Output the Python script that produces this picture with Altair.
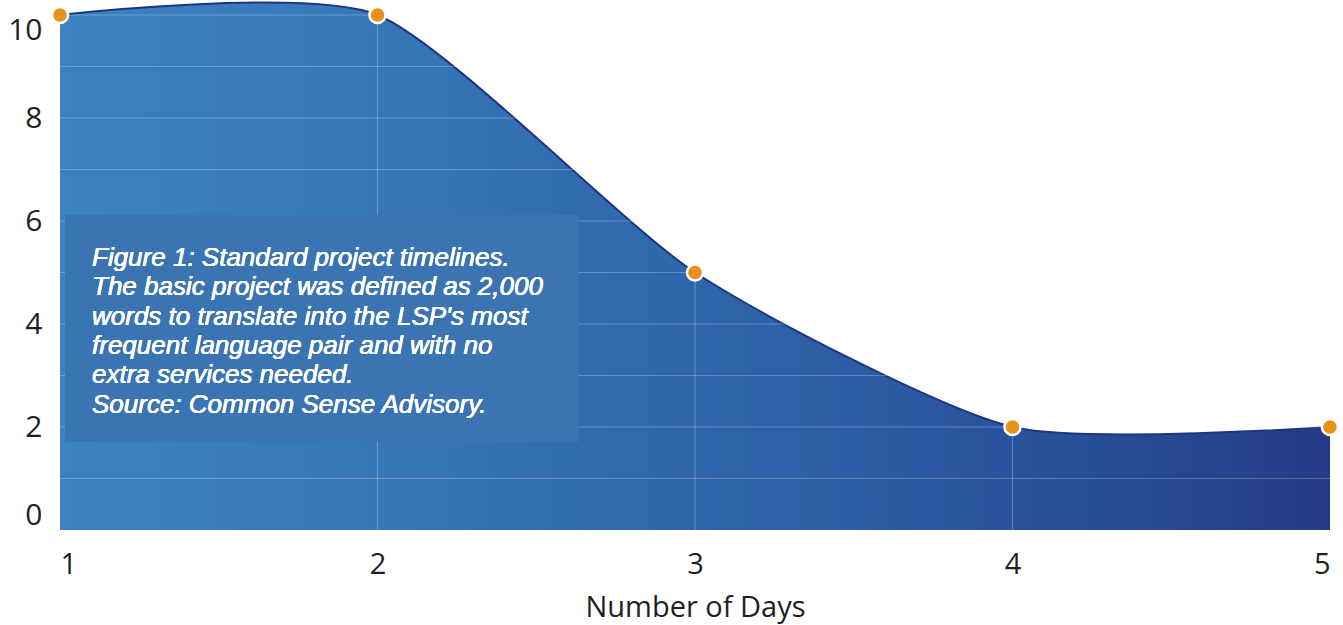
import altair as alt
import pandas as pd

# Days needed for a standard project
days = [1, 2, 3, 4, 5]
values = [10, 10, 5, 2, 2]

y_ticks = [0, 2, 4, 6, 8, 10]
h_grid = [1, 2, 3, 4, 5, 6, 7, 8, 9, 10]
v_grid = [2, 3, 4]

caption = [
    "Figure 1: Standard project timelines.",
    "The basic project was defined as 2,000",
    "words to translate into the LSP's most",
    "frequent language pair and with no",
    "extra services needed.",
    "Source: Common Sense Advisory.",
]

df = pd.DataFrame({"day": days, "value": values})
hgrid_df = pd.DataFrame({"value": h_grid})
vgrid_df = pd.DataFrame({"day": v_grid})

FONT = "Open Sans"

x_scale = alt.Scale(domain=[1, 5], nice=False, zero=False)
y_scale = alt.Scale(domain=[0, 10], nice=False)

x_enc = alt.X(
    "day:Q",
    scale=x_scale,
    title="Number of Days",
    axis=alt.Axis(
        values=days, format="d", grid=False, domain=False, ticks=False,
        labelFontSize=29, labelColor="#231f20", labelPadding=20, labelFont=FONT,
        labelFlush=True,
        titleFontSize=29, titleColor="#231f20", titleFont=FONT,
        titleFontWeight="normal", titlePadding=14,
    ),
)
y_enc = alt.Y(
    "value:Q",
    scale=y_scale,
    title=None,
    axis=alt.Axis(
        values=y_ticks, format="d", grid=False, domain=False, ticks=False,
        labelFontSize=30, labelColor="#231f20", labelPadding=18, labelFont=FONT,
        labelFlush=True,
    ),
)

area = alt.Chart(df).mark_area(
    interpolate="cardinal",
    tension=0.35,
    opacity=1,
    fill=alt.Gradient(
        gradient="linear",
        stops=[
            alt.GradientStop(color="#3b82c1", offset=0),
            alt.GradientStop(color="#3574b5", offset=0.3),
            alt.GradientStop(color="#2e62a8", offset=0.55),
            alt.GradientStop(color="#284f99", offset=0.8),
            alt.GradientStop(color="#243a86", offset=1),
        ],
        x1=0, x2=1, y1=0, y2=0,
    ),
    line={"color": "#1e3580", "strokeWidth": 2, "interpolate": "cardinal", "tension": 0.35},
).encode(x=x_enc, y=y_enc)

hgrid = alt.Chart(hgrid_df).mark_rule(color="white", opacity=0.25, strokeWidth=1.2).encode(
    y=alt.Y("value:Q", scale=y_scale)
)
vgrid = alt.Chart(vgrid_df).mark_rule(color="white", opacity=0.25, strokeWidth=1.2).encode(
    x=alt.X("day:Q", scale=x_scale)
)

box = alt.Chart(df).mark_rect(color="#3a74b2", opacity=0.97).encode(
    x=alt.value(5), x2=alt.value(518), y=alt.value(200), y2=alt.value(427)
)

note = alt.Chart(df).mark_text(
    text=caption,
    align="left",
    baseline="top",
    font="Liberation Sans",
    fontStyle="italic",
    fontSize=26,
    lineHeight=29.3,
    color="white",
).encode(x=alt.value(32), y=alt.value(230))

points = alt.Chart(df).mark_point(
    filled=True, size=260, color="#e8921e", stroke="white", strokeWidth=2.5, opacity=1
).encode(x=alt.X("day:Q", scale=x_scale), y=alt.Y("value:Q", scale=y_scale))

chart = alt.layer(area, hgrid, vgrid, box, note, points).properties(
    width=1270,
    height=515,
    autosize=alt.AutoSizeParams(type="none"),
    padding={"left": 60, "top": 15, "right": 13, "bottom": 95},
    background="white",
).configure_view(stroke=None)

chart.save("out.html", embed_options={"renderer": "svg", "actions": False})
